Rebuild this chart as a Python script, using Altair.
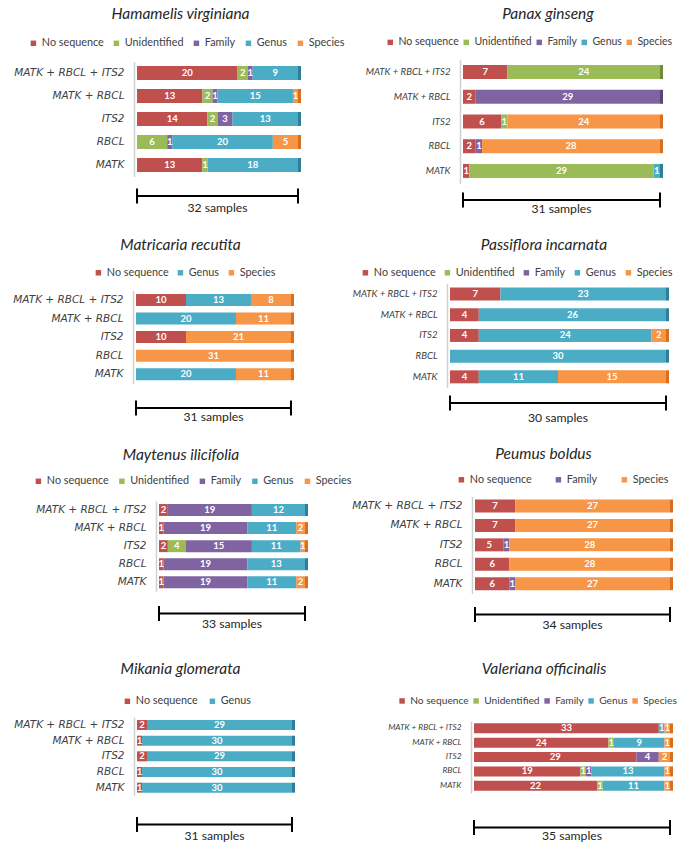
import altair as alt
import pandas as pd

CATEGORIES = ["No sequence", "Unidentified", "Family", "Genus", "Species"]
COLORS = ["#C0504D", "#9BBB59", "#8064A2", "#4BACC6", "#F79646"]
SIDE_COLORS = ["#8E3532", "#6F8A3A", "#5A4578", "#2E8099", "#D96F1E"]
MARKERS = ["MATK + RBCL + ITS2", "MATK + RBCL", "ITS2", "RBCL", "MATK"]

SPECIES = ["Hamamelis virginiana", "Panax ginseng", "Matricaria recutita",
           "Passiflora incarnata", "Maytenus ilicifolia", "Peumus boldus",
           "Mikania glomerata", "Valeriana officinalis"]
SAMPLES = [32, 31, 31, 30, 33, 34, 31, 35]

# counts: one row per marker (order of MARKERS), one column per category (order of CATEGORIES)
hamamelis = [[20, 2, 1, 9, 0], [13, 2, 1, 15, 1], [14, 2, 3, 13, 0], [0, 6, 1, 20, 5], [13, 1, 0, 18, 0]]
panax = [[7, 24, 0, 0, 0], [2, 0, 29, 0, 0], [6, 1, 0, 0, 24], [2, 0, 1, 0, 28], [1, 29, 0, 1, 0]]
matricaria = [[10, 0, 0, 13, 8], [0, 0, 0, 20, 11], [10, 0, 0, 0, 21], [0, 0, 0, 0, 31], [0, 0, 0, 20, 11]]
passiflora = [[7, 0, 0, 23, 0], [4, 0, 0, 26, 0], [4, 0, 0, 24, 2], [0, 0, 0, 30, 0], [4, 0, 0, 11, 15]]
maytenus = [[2, 0, 19, 12, 0], [1, 0, 19, 11, 2], [2, 4, 15, 11, 1], [1, 0, 19, 13, 0], [1, 0, 19, 11, 2]]
peumus = [[7, 0, 0, 0, 27], [7, 0, 0, 0, 27], [5, 0, 1, 0, 28], [6, 0, 0, 0, 28], [6, 0, 1, 0, 27]]
mikania = [[2, 0, 0, 29, 0], [1, 0, 0, 30, 0], [2, 0, 0, 29, 0], [1, 0, 0, 30, 0], [1, 0, 0, 30, 0]]
valeriana = [[33, 0, 0, 1, 1], [24, 1, 0, 9, 1], [29, 0, 4, 0, 2], [19, 1, 1, 13, 1], [22, 1, 0, 11, 1]]
DATA = [hamamelis, panax, matricaria, passiflora, maytenus, peumus, mikania, valeriana]

ALL5 = CATEGORIES
LEGENDS = [ALL5, ALL5, ["No sequence", "Genus", "Species"], ALL5, ALL5,
           ["No sequence", "Family", "Species"], ["No sequence", "Genus"], ALL5]

# ---- layout (cell-local pixels) ----
CELL_W = 339
ROW_H = [228, 210, 210, 201]
SPACED = ("DejaVu Sans", 10.5)
COMPACT = ("Lato", 9.6)
LAYOUT = [
    dict(x0=137, x1=298, y0=61.5, y1=176.5, bh=14, by=196, ty=208, tcx=180.5, tcy=13.5, lx=28, lcy=43.5, cp=7, lf=10.8, lab=SPACED),
    dict(x0=124, x1=321, y0=59.7, y1=183.3, bh=14, by=200, ty=209, tcx=209, tcy=13.5, lx=46, lcy=43, cp=2, lf=10.5, lab=COMPACT),
    dict(x0=136, x1=291, y0=62.7, y1=155.5, bh=12, by=180, ty=189, tcx=180.5, tcy=16.5, lx=93, lcy=45, cp=6, lf=10.8, lab=SPACED),
    dict(x0=111, x1=327, y0=55.7, y1=159.2, bh=13, by=175, ty=190, tcx=205, tcy=17, lx=21, lcy=45, cp=6, lf=10.8, lab=COMPACT),
    dict(x0=159, x1=305, y0=63.0, y1=153.3, bh=12, by=175.5, ty=185.5, tcx=181, tcy=16.5, lx=33, lcy=43.5, cp=7.5, lf=10.8, lab=SPACED),
    dict(x0=136, x1=331, y0=58.3, y1=155.4, bh=13, by=176.5, ty=186.5, tcx=204.5, tcy=16, lx=117, lcy=42, cp=21, lf=10.8, lab=SPACED),
    dict(x0=137, x1=292, y0=69.2, y1=147.5, bh=10, by=176.5, ty=188, tcx=180.5, tcy=21, lx=122, lcy=53.5, cp=9, lf=10.8, lab=SPACED),
    dict(x0=135, x1=331, y0=73.2, y1=144.9, bh=10, by=179.5, ty=188, tcx=205, tcy=20.5, lx=58, lcy=53.5, cp=2, lf=10.2, lab=("Lato", 8.3)),
]

FONT = "Lato"
TEXT_COLOR = "#404040"


def make_panel(i):
    L = LAYOUT[i]
    total = SAMPLES[i]
    rows, caps = [], []
    for m, vals in zip(MARKERS, DATA[i]):
        last = None
        for k, (c, v) in enumerate(zip(CATEGORIES, vals)):
            if v > 0:
                rows.append({"marker": m, "cat": c, "order": k, "value": v})
                last = c
        caps.append({"marker": m, "side": last, "end": sum(vals)})
    df = pd.DataFrame(rows)
    cap_df = pd.DataFrame(caps)

    step = (L["y1"] - L["y0"]) / len(MARKERS)
    pad = 1 - L["bh"] / step
    unit = (L["x1"] - L["x0"]) / total
    xs = alt.Scale(domain=[0, total], range=[L["x0"], L["x1"]], nice=False, zero=False)
    ys = alt.Scale(domain=MARKERS, range=[L["y0"], L["y1"]], paddingInner=pad, paddingOuter=pad / 2)
    leg = LEGENDS[i]
    cs = alt.Scale(domain=leg, range=[COLORS[CATEGORIES.index(c)] for c in leg])
    side_scale = alt.Scale(domain=CATEGORIES, range=SIDE_COLORS)

    base = alt.Chart(df).transform_stack(
        stack="value", groupby=["marker"], as_=["s0", "s1"],
        sort=[alt.SortField("order", order="ascending")]
    ).transform_calculate(mid="(datum.s0 + datum.s1) / 2")

    lab_font, lab_size = L["lab"]
    bars = base.mark_bar().encode(
        x=alt.X("s0:Q", scale=xs, axis=None),
        x2="s1:Q",
        y=alt.Y("marker:N", scale=ys, sort=MARKERS,
                axis=alt.Axis(title=None, offset=-(L["x0"] - 3), ticks=False,
                              domainColor="#d0d0d0", domainWidth=1.5, labelPadding=10,
                              labelFont=lab_font, labelFontSize=lab_size,
                              labelFontStyle="italic", labelColor=TEXT_COLOR, labelLimit=200)),
        color=alt.Color("cat:N", scale=cs,
                        legend=alt.Legend(orient="none", legendX=L["lx"], legendY=L["lcy"] - 6,
                                          direction="horizontal", title=None,
                                          symbolType="square", symbolSize=30,
                                          symbolStrokeWidth=0, labelFont=FONT,
                                          labelFontSize=L["lf"], labelColor=TEXT_COLOR,
                                          columnPadding=L["cp"], labelOffset=3, padding=0)),
    )
    sides = alt.Chart(cap_df).transform_calculate(
        cap_end=f"datum.end + {3.0 / unit}"
    ).mark_bar().encode(
        x=alt.X("end:Q", scale=xs),
        x2="cap_end:Q",
        y=alt.Y("marker:N", scale=ys, sort=MARKERS),
        fill=alt.Fill("side:N", scale=side_scale, legend=None),
    )
    labels = base.mark_text(color="white", font=FONT, fontSize=9.5, fontWeight="bold").encode(
        x=alt.X("mid:Q", scale=xs),
        y=alt.Y("marker:N", scale=ys, sort=MARKERS),
        text="value:Q",
    )
    span = pd.DataFrame({"a": [0], "b": [total]})
    hline = alt.Chart(span).mark_rule(color="black", strokeWidth=2).encode(
        x=alt.X("a:Q", scale=xs), x2="b:Q", y=alt.value(L["by"]))
    ends = alt.Chart(pd.DataFrame({"a": [0, total]})).mark_rule(color="black", strokeWidth=2).encode(
        x=alt.X("a:Q", scale=xs), y=alt.value(L["by"] - 7.5), y2=alt.value(L["by"] + 7.5))
    caption = alt.Chart(pd.DataFrame({"a": [total / 2], "t": [f"{total} samples"]})).mark_text(
        font=FONT, fontSize=12.2, color="#262626", baseline="middle").encode(
        x=alt.X("a:Q", scale=xs), y=alt.value(L["ty"]), text="t:N")
    title = alt.Chart(pd.DataFrame({"t": [SPECIES[i]]})).mark_text(
        font=FONT, fontSize=15.5, fontStyle="italic", color="#262626", baseline="middle").encode(
        x=alt.value(L["tcx"]), y=alt.value(L["tcy"]), text="t:N")

    return alt.layer(bars, sides, labels, hline, ends, caption, title).properties(
        width=CELL_W, height=ROW_H[i // 2])


panels = [make_panel(i) for i in range(8)]
chart = alt.concat(*panels, columns=2, spacing=0, bounds="flush", align="each").resolve_scale(
    x="independent", y="independent", color="independent", fill="independent"
).resolve_legend(color="independent").properties(padding=0, background="white").configure_view(
    strokeWidth=0
)

chart.save("out.html", embed_options={"renderer": "svg", "actions": False})
